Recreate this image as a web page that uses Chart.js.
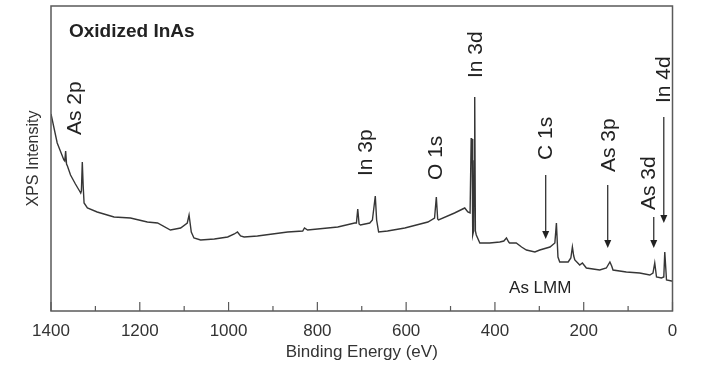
<!DOCTYPE html>
<html><head><meta charset="utf-8">
<script src="https://cdn.jsdelivr.net/npm/chart.js@4"></script>
<style>html,body{margin:0;padding:0;background:#fff}</style>
</head><body>
<canvas id="c" width="707" height="371"></canvas>
<script>
// Spectrum (binding energy in eV, intensity in arbitrary units)
const bindingEnergy = [1400,1386,1371,1369,1367,1365,1363,1356,1345,1337,1333,1331.5,1329.5,1327.5,1325.5,1318,1296,1258,1221,1183,1160,1131,1108,1093,1089,1084,1078,1063,1032,1002,987,980,973,965,935,867,833,829,822,754,716,712,709,706,703,682,676,669.5,666.5,662,642,603,551,536,532,529,527,491,468,461,456,455,453.5,452.5,451.5,450,448,446.5,445.5,444,442,434,412,389,380,374,369,367,352,340,329,310,299,276,265,261.5,258,254,235,229,225.5,222.5,220,209,203,194,164,149,141,137,134,104,74,51,44,40,36,25,19.6,17.4,13.5,2,0];
const intensity = [197,168,151,150,160,147,145,136,127,121,118,120,149,125,108,103,99,94,93,89,88,81,83,88,96,79,73,71,72,74,77,79,75,74,75,79,80,83,81,84,88,88,102,87,86,88,91,115,91,79,80,83,89,93,114,92,91,98,103,99,98,98,173,150,172,76,80,150,214,80,76,68,68,69,70,73,69,68,68,64,61,59,61,64,68,88,54,49,49,53,64,55,51,46,48,43,41,43,49,45,41,39,38,36,38,48,34,33,34,59,31,30,30];

const xTickValues = [1400,1200,1000,800,600,400,200,0];

// Peak labels (rotated), anchored at energy / intensity of text start
const peakLabels = ['As 2p','In 3p','O 1s','In 3d','C 1s','As 3p','As 3d','In 4d'];
const peakLabelEnergy = [1345,691,533,442,285,143,52,19];
const peakLabelBase = [176,135,131,233,151,139,101,208];

// Arrows pointing at peaks
const arrowEnergy = [285.6,145.9,42.2,19.6];
const arrowFrom = [136,126,94,194];
const arrowTo = [72,63,63,88];

const FONT = "'Liberation Sans', Arial, Helvetica, sans-serif";

const annot = {
  id: 'annot',
  afterDatasetsDraw(chart) {
    const {ctx, chartArea: a, scales: {x, y}} = chart;
    ctx.save();
    // frame
    ctx.strokeStyle = '#5a5a5a';
    ctx.lineWidth = 1.5;
    ctx.strokeRect(a.left, a.top, a.right - a.left, a.bottom - a.top);
    // inward ticks
    ctx.lineWidth = 1.2;
    for (let v = 0; v <= 1400; v += 100) {
      const px = x.getPixelForValue(v);
      const len = v % 200 === 0 ? 9 : 5;
      ctx.beginPath();
      ctx.moveTo(px, a.bottom);
      ctx.lineTo(px, a.bottom - len);
      ctx.stroke();
    }
    // title
    ctx.fillStyle = '#222';
    ctx.font = "bold 19px " + FONT;
    ctx.textAlign = 'left';
    ctx.textBaseline = 'alphabetic';
    ctx.fillText('Oxidized InAs', a.left + 18, a.top + 31);
    // As LMM
    ctx.font = "17px " + FONT;
    ctx.textAlign = 'center';
    ctx.fillText('As LMM', x.getPixelForValue(298), y.getPixelForValue(18));
    // rotated peak labels
    ctx.font = "21px " + FONT;
    peakLabels.forEach((t, i) => {
      ctx.save();
      ctx.translate(x.getPixelForValue(peakLabelEnergy[i]), y.getPixelForValue(peakLabelBase[i]));
      ctx.rotate(-Math.PI / 2);
      ctx.textAlign = 'left';
      ctx.textBaseline = 'middle';
      ctx.fillText(t, 0, 0);
      ctx.restore();
    });
    // arrows
    ctx.strokeStyle = '#222';
    ctx.lineWidth = 1.2;
    arrowEnergy.forEach((e, i) => {
      const px = x.getPixelForValue(e);
      const y0 = y.getPixelForValue(arrowFrom[i]);
      const y1 = y.getPixelForValue(arrowTo[i]);
      ctx.beginPath();
      ctx.moveTo(px, y0);
      ctx.lineTo(px, y1 - 6);
      ctx.stroke();
      ctx.beginPath();
      ctx.moveTo(px - 3.5, y1 - 8);
      ctx.lineTo(px + 3.5, y1 - 8);
      ctx.lineTo(px, y1);
      ctx.closePath();
      ctx.fill();
    });
    ctx.restore();
  }
};

new Chart(document.getElementById('c'), {
  type: 'line',
  data: {
    datasets: [{
      data: bindingEnergy.map((e, i) => ({x: e, y: intensity[i]})),
      borderColor: '#363636',
      borderWidth: 1.4,
      pointRadius: 0,
      tension: 0,
      fill: false
    }]
  },
  options: {
    responsive: false,
    animation: false,
    devicePixelRatio: 1,
    layout: {padding: {top: 6, right: 34.5, left: 0, bottom: 0}},
    plugins: {legend: {display: false}, tooltip: {enabled: false}},
    scales: {
      x: {
        type: 'linear', reverse: true, min: 0, max: 1400,
        afterFit: s => { s.height = 60; },
        afterBuildTicks: s => { s.ticks = xTickValues.map(v => ({value: v})); },
        ticks: {color: '#333', font: {family: FONT, size: 17}, padding: 10, maxRotation: 0, autoSkip: false,
                callback: v => String(v)},
        grid: {display: false, drawTicks: false},
        border: {display: false},
        title: {display: true, text: 'Binding Energy (eV)', color: '#333', font: {family: FONT, size: 17}, padding: {top: 0, bottom: 8}}
      },
      y: {
        type: 'linear', min: 0, max: 305,
        afterFit: s => { s.width = 51; },
        ticks: {display: false},
        grid: {display: false, drawTicks: false},
        border: {display: false},
        title: {display: true, text: 'XPS Intensity', color: '#333', font: {family: FONT, size: 16}, padding: {top: 24, bottom: 0}}
      }
    }
  },
  plugins: [annot]
});
</script>
</body></html>
